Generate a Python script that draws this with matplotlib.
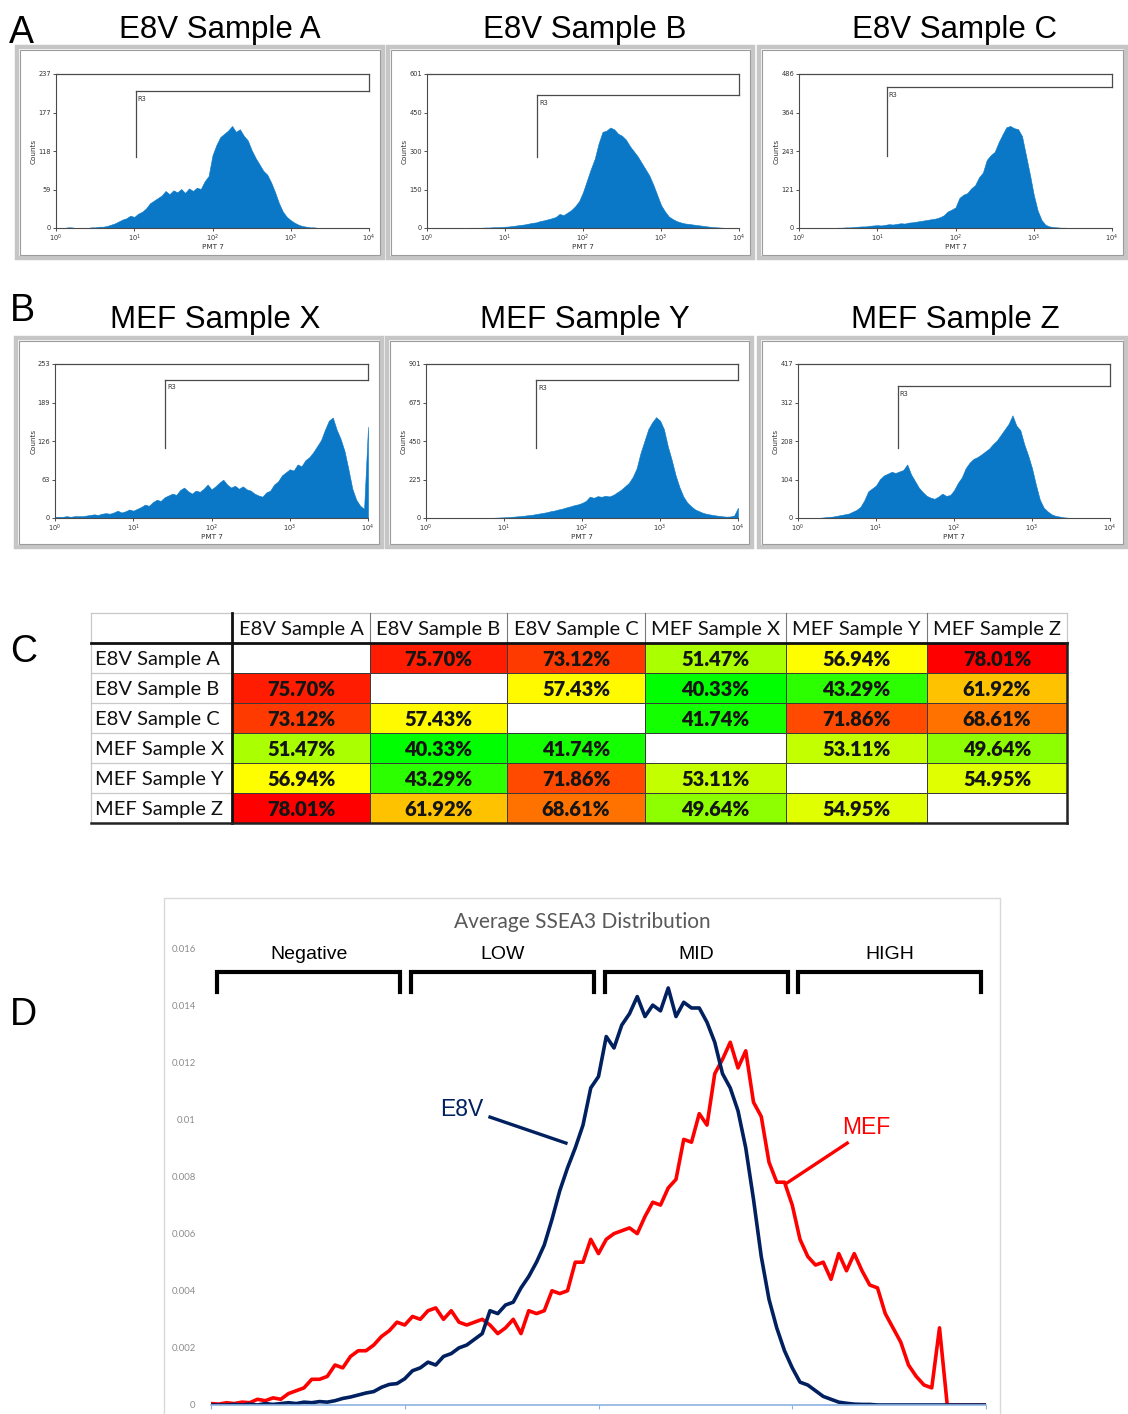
import matplotlib.pyplot as plt
import numpy as np
from matplotlib.patches import Rectangle
from matplotlib.colors import LinearSegmentedColormap, TwoSlopeNorm

W, H = 1128, 1414

# --- Flow histograms (counts per 0.05-decade channel, PMT 7 from 10^0 to 10^4) ---
log_channels = np.arange(81) * 0.05

hist_a = [0, 0, 0, 1, 1, 0, 0, 0, 0, 1,
          1, 2, 2, 3, 5, 7, 10, 13, 15, 19,
          17, 22, 25, 30, 38, 42, 46, 50, 57, 52,
          58, 55, 60, 54, 61, 57, 62, 60, 72, 80,
          112, 128, 140, 145, 150, 157, 148, 152, 142, 135,
          120, 108, 98, 88, 82, 70, 55, 38, 25, 17,
          12, 8, 5, 3, 2, 1, 1, 0, 0, 0,
          0, 0, 0, 0, 0, 0, 0, 0, 0, 0, 0]
hist_b = [0, 0, 0, 0, 0, 0, 0, 0, 0, 0, 0,
          1, 1, 1, 1, 2, 2, 3, 3, 4,
          5, 6, 8, 10, 12, 14, 17, 20, 22, 27,
          30, 34, 38, 43, 55, 50, 60, 70, 85, 105,
          140, 185, 230, 270, 330, 375, 380, 392, 385, 368,
          360, 345, 320, 300, 280, 255, 230, 205, 170, 130,
          90, 65, 45, 35, 27, 22, 18, 16, 14, 12,
          10, 8, 6, 4, 3, 2, 1, 0, 0, 0, 0]
hist_c = [0, 0, 0, 0, 0, 0, 0, 0, 0, 0,
          1, 1, 2, 2, 3, 4, 5, 5, 7, 8,
          9, 8, 10, 12, 11, 13, 15, 14, 17, 18,
          20, 22, 24, 26, 28, 30, 34, 40, 52, 58,
          65, 95, 105, 110, 125, 135, 160, 175, 215, 230,
          240, 270, 295, 318, 322, 315, 312, 290, 230, 170,
          105, 55, 25, 10, 5, 3, 2, 1, 1, 0,
          0, 0, 0, 0, 0, 0, 0, 0, 0, 0, 0]
hist_x = [2, 2, 2, 3, 2, 3, 3, 3, 4, 5,
          6, 5, 7, 8, 7, 9, 12, 9, 11, 14,
          12, 15, 18, 22, 20, 26, 30, 28, 34, 37,
          40, 38, 46, 50, 44, 40, 45, 43, 48, 55,
          47, 52, 58, 63, 55, 50, 53, 48, 52, 47,
          45, 40, 37, 35, 42, 45, 55, 60, 70, 75,
          80, 78, 88, 85, 95, 100, 108, 118, 128, 145,
          160, 165, 145, 130, 110, 80, 48, 30, 20, 15, 150]
hist_y = [0, 0, 0, 0, 0, 0, 0, 0, 0, 0, 0, 0, 0, 0, 0, 0, 0,
          1, 2, 3,
          4, 5, 7, 9, 11, 13, 16, 18, 22, 26,
          30, 34, 40, 44, 50, 55, 62, 68, 75, 80,
          88, 100, 125, 118, 128, 124, 130, 126, 135, 150,
          165, 185, 205, 240, 290, 380, 450, 520, 560, 590,
          570, 520, 420, 340, 250, 180, 125, 90, 68, 50,
          40, 30, 24, 20, 16, 13, 10, 8, 9, 14, 60]
hist_z = [0, 0, 0, 0, 0, 0, 1, 2, 3, 4,
          6, 8, 10, 12, 17, 22, 30, 48, 72, 80,
          88, 105, 115, 120, 125, 122, 126, 130, 145, 118,
          100, 82, 70, 60, 55, 52, 58, 66, 60, 62,
          75, 95, 110, 135, 150, 160, 165, 172, 180, 188,
          200, 210, 225, 240, 255, 278, 250, 238, 200, 170,
          135, 90, 50, 28, 18, 10, 6, 4, 2, 1,
          0, 0, 0, 0, 0, 0, 0, 0, 0, 0, 0]

hist_titles = ["E8V Sample A", "E8V Sample B", "E8V Sample C",
               "MEF Sample X", "MEF Sample Y", "MEF Sample Z"]
hist_counts = [hist_a, hist_b, hist_c, hist_x, hist_y, hist_z]
hist_ymax = [237, 601, 486, 253, 901, 417]
# R3 gate: start channel (log10), level and lower end of its marker (counts)
gate_start = [1.02, 1.41, 1.12, 1.41, 1.41, 1.28]
gate_level = [211, 519, 445, 227, 807, 357]
gate_low = [110, 276, 227, 115, 410, 190]

# --- Pairwise overlap table ---
samples = ["E8V Sample A", "E8V Sample B", "E8V Sample C",
           "MEF Sample X", "MEF Sample Y", "MEF Sample Z"]
overlap = [[np.nan, 75.70, 73.12, 51.47, 56.94, 78.01],
           [75.70, np.nan, 57.43, 40.33, 43.29, 61.92],
           [73.12, 57.43, np.nan, 41.74, 71.86, 68.61],
           [51.47, 40.33, 41.74, np.nan, 53.11, 49.64],
           [56.94, 43.29, 71.86, 53.11, np.nan, 54.95],
           [78.01, 61.92, 68.61, 49.64, 54.95, np.nan]]

# --- Average SSEA3 distribution ---
e8v_avg = [0, 0, 0, 0.00002, 0, 0.00003, 0, 0.00005, 0.00002, 0.00005,
           0.00008, 0.00005, 0.0001, 0.00008, 0.00012, 0.0001, 0.00015, 0.00023, 0.00028, 0.00035,
           0.00042, 0.00047, 0.00062, 0.00072, 0.00075, 0.00092, 0.0012, 0.0013, 0.0015, 0.0014,
           0.0017, 0.0018, 0.0020, 0.0021, 0.0023, 0.0025, 0.0033, 0.0032, 0.0035, 0.0036,
           0.0041, 0.0045, 0.0050, 0.0056, 0.0065, 0.0075, 0.0083, 0.0090, 0.0098, 0.0111,
           0.0115, 0.0129, 0.0125, 0.0133, 0.0137, 0.0143, 0.0136, 0.0140, 0.0138, 0.0146,
           0.0136, 0.0141, 0.0139, 0.0139, 0.0134, 0.0127, 0.0116, 0.0111, 0.0103, 0.0090,
           0.0072, 0.0052, 0.0037, 0.0027, 0.0019, 0.0013, 0.0008, 0.0007, 0.0005, 0.0003,
           0.0002, 0.0001, 0.00006, 0.00003, 0.00002, 0.00002, 0, 0, 0, 0,
           0, 0, 0, 0, 0, 0, 0, 0, 0, 0, 0]
mef_avg = [0.00005, 0.00003, 0.00008, 0.00005, 0.0001, 0.00008, 0.0002, 0.00015, 0.00025, 0.0002,
           0.0004, 0.0005, 0.0006, 0.0009, 0.0009, 0.0010, 0.0014, 0.0013, 0.0017, 0.0019,
           0.0019, 0.0021, 0.0024, 0.0026, 0.0029, 0.0028, 0.0031, 0.0030, 0.0033, 0.0034,
           0.0030, 0.0033, 0.0029, 0.0028, 0.0029, 0.0030, 0.0028, 0.0025, 0.0027, 0.0030,
           0.0025, 0.0033, 0.0032, 0.0033, 0.0040, 0.0039, 0.0040, 0.0050, 0.0050, 0.0058,
           0.0053, 0.0058, 0.0060, 0.0061, 0.0062, 0.0060, 0.0066, 0.0071, 0.0070, 0.0076,
           0.0079, 0.0093, 0.0092, 0.0102, 0.0098, 0.0116, 0.0121, 0.0127, 0.0118, 0.0124,
           0.0106, 0.0101, 0.0085, 0.0078, 0.0078, 0.0070, 0.0058, 0.0052, 0.0049, 0.0050,
           0.0044, 0.0053, 0.0047, 0.0053, 0.0047, 0.0042, 0.0041, 0.0032, 0.0027, 0.0022,
           0.0014, 0.0010, 0.0007, 0.0006, 0.0027, 0, 0, 0, 0, 0, 0]
ssea3_bins = ["Negative", "LOW", "MID", "HIGH"]

fig = plt.figure(figsize=(W / 100, H / 100), dpi=100)
canvas = fig.add_axes([0, 0, 1, 1])
canvas.set_xlim(0, W)
canvas.set_ylim(H, 0)
canvas.axis('off')


def px_axes(x0, y0, x1, y1):
    return fig.add_axes([x0 / W, 1 - y1 / H, (x1 - x0) / W, (y1 - y0) / H])


def panel_label(x, y, s):
    canvas.text(x, y, s, fontsize=27, family='Liberation Sans', va='center', ha='left')


# ---------------- A / B: histograms ----------------
frames = [(17, 47, 383, 258), (388, 47, 753, 258), (759, 47, 1126, 258),
          (16, 338, 382, 547), (387, 338, 752, 547), (759, 338, 1126, 547)]
plot_boxes = [(56, 74, 369, 228), (427, 74, 739, 228), (799, 74, 1112, 228),
              (55, 364, 368, 518), (426, 364, 738, 518), (798, 364, 1110, 518)]
title_pos = [(220, 30), (585, 30), (955, 30), (215, 320), (585, 320), (955, 320)]
hist_color = '#0a78c6'
line_gray = '#4a4a4a'

channels = 10 ** log_channels
for k in range(6):
    x0, y0, x1, y1 = frames[k]
    canvas.add_patch(Rectangle((x0, y0), x1 - x0, y1 - y0, fill=False, ec='#c6c6c6', lw=3.2))
    canvas.add_patch(Rectangle((x0 + 3, y0 + 3), x1 - x0 - 6, y1 - y0 - 6, fill=False,
                               ec='#9c9c9c', lw=0.8))
    tx, ty = title_pos[k]
    canvas.text(tx, ty, hist_titles[k], fontsize=22.5, family='Liberation Sans',
                ha='center', va='center')

    ax = px_axes(*plot_boxes[k])
    ymax = hist_ymax[k]
    ax.fill_between(channels, hist_counts[k], 0, color=hist_color, lw=0.4, ec=hist_color)
    ax.set_xscale('log')
    ax.set_xlim(1, 1e4)
    ax.set_ylim(0, ymax)
    ax.set_xticks([1, 10, 100, 1000, 10000])
    ax.set_xticklabels([r'$10^{%d}$' % p for p in range(5)])
    ax.xaxis.set_minor_locator(plt.NullLocator())
    yt = [ymax * q / 4 for q in range(5)]
    ax.set_yticks(yt)
    ax.set_yticklabels([str(int(v)) for v in yt])
    ax.tick_params(labelsize=4.8, length=2.5, width=0.6, pad=1, colors='#333333')
    ax.set_xlabel('PMT 7', fontsize=5.2, labelpad=0, color='#333333')
    ax.set_ylabel('Counts', fontsize=5.2, labelpad=1, color='#333333')
    for side in ('top', 'right'):
        ax.spines[side].set_visible(False)
    for side in ('left', 'bottom'):
        ax.spines[side].set_color(line_gray)
        ax.spines[side].set_linewidth(0.8)
    # full-range gate and R3 gate
    g = 10 ** gate_start[k]
    ax.plot([1, 1e4], [ymax, ymax], color=line_gray, lw=0.9, clip_on=False)
    ax.plot([1e4, 1e4], [ymax, gate_level[k]], color=line_gray, lw=0.9, clip_on=False)
    ax.plot([g, 1e4], [gate_level[k], gate_level[k]], color=line_gray, lw=0.9, clip_on=False)
    ax.plot([g, g], [gate_level[k], gate_low[k]], color=line_gray, lw=0.9, clip_on=False)
    ax.text(g * 1.06, gate_level[k] - ymax * 0.03, 'R3', fontsize=4.8, va='top',
            ha='left', color='#333333')

panel_label(9, 33, 'A')
panel_label(10, 311, 'B')

# ---------------- C: overlap table ----------------
panel_label(10, 652, 'C')
col_edges = [91, 232, 370, 507, 645, 786, 927, 1067]
row_edges = [613, 643, 673, 703, 733, 763, 793, 823]
vals = np.array(overlap, dtype=float)
finite = vals[np.isfinite(vals)]
cmap = LinearSegmentedColormap.from_list('gyr', ['#00ff00', '#ffff00', '#ff0000'])
norm = TwoSlopeNorm(vmin=finite.min(), vcenter=np.median(finite), vmax=finite.max())
table_font = 'Lato'

for j, name in enumerate(samples):
    cx = (col_edges[j + 1] + col_edges[j + 2]) / 2
    canvas.text(cx, (row_edges[0] + row_edges[1]) / 2 + 1, name, fontsize=14.5,
                family=table_font, ha='center', va='center', color='#111111')
for i, name in enumerate(samples):
    ry0, ry1 = row_edges[i + 1], row_edges[i + 2]
    canvas.text(col_edges[0] + 4, (ry0 + ry1) / 2 + 1, name, fontsize=14.5,
                family=table_font, ha='left', va='center', color='#111111')
    for j in range(6):
        cx0, cx1 = col_edges[j + 1], col_edges[j + 2]
        v = vals[i, j]
        face = 'white' if np.isnan(v) else cmap(norm(v))
        canvas.add_patch(Rectangle((cx0, ry0), cx1 - cx0, ry1 - ry0, fc=face,
                                   ec='#3a3a3a', lw=0.7))
        if not np.isnan(v):
            canvas.text((cx0 + cx1) / 2, (ry0 + ry1) / 2 + 1, '%.2f%%' % v,
                        fontsize=14.5, fontweight='heavy', family=table_font,
                        ha='center', va='center', color='#151515')

# light grid for header row and label column
grid_c = '#c8c8c8'
canvas.plot([col_edges[0], col_edges[-1]], [row_edges[0]] * 2, color=grid_c, lw=0.9)
for x in col_edges[2:-1]:
    canvas.plot([x, x], [row_edges[0], row_edges[1]], color='#7a7a7a', lw=0.8)
canvas.plot([col_edges[0]] * 2, [row_edges[0], row_edges[-1]], color=grid_c, lw=0.9)
for y in row_edges[2:-1]:
    canvas.plot([col_edges[0], col_edges[1]], [y, y], color=grid_c, lw=0.9)
canvas.plot([col_edges[-1]] * 2, [row_edges[0], row_edges[1]], color=grid_c, lw=0.9)
# heavy separators and outer edge
canvas.plot([col_edges[0], col_edges[-1]], [row_edges[1]] * 2, color='#111111', lw=2)
canvas.plot([col_edges[1]] * 2, [row_edges[0], row_edges[-1]], color='#111111', lw=2)
canvas.plot([col_edges[-1]] * 2, [row_edges[1], row_edges[-1]], color='#222222', lw=1.8)
canvas.plot([col_edges[0], col_edges[-1]], [row_edges[-1]] * 2, color='#222222', lw=1.8)

# ---------------- D: average SSEA3 distribution ----------------
panel_label(10, 1015, 'D')
canvas.plot([164, 164, 1000, 1000], [H + 5, 898, 898, H + 5], color='#d9d9d9', lw=1)
canvas.text(582, 922, 'Average SSEA3 Distribution', fontsize=15, family='Lato',
            color='#595959', ha='center', va='center')

axd = px_axes(211, 948, 986, 1405)
axd.set_facecolor('none')
xs = np.arange(len(mef_avg))
axd.plot(xs, mef_avg, color='#ff0000', lw=2.6, solid_joinstyle='round')
axd.plot(xs, e8v_avg, color='#002060', lw=2.6, solid_joinstyle='round')
axd.set_xlim(0, 100)
axd.set_ylim(0, 0.016)
axd.set_yticks(np.arange(0, 0.0161, 0.002))
axd.set_yticklabels(['0', '0.002', '0.004', '0.006', '0.008', '0.01', '0.012', '0.014', '0.016'])
axd.tick_params(axis='y', length=0, pad=11, labelsize=6.8, labelcolor='#8c8c8c')
for lab in axd.get_yticklabels():
    lab.set_family('Lato')
axd.set_xticks([0, 25, 50, 75, 100])
axd.set_xticklabels([])
axd.tick_params(axis='x', length=3, width=0.8, color='#8db3e2', direction='out')
for side in ('top', 'right', 'left'):
    axd.spines[side].set_visible(False)
axd.spines['bottom'].set_color('#8db3e2')
axd.spines['bottom'].set_linewidth(1.2)

# SSEA3 expression brackets
for b, name in enumerate(ssea3_bins):
    left, right = 25 * b + 0.8, 25 * (b + 1) - 0.6
    axd.plot([left, left, right, right], [0.01446, 0.01516, 0.01516, 0.01446],
             color='black', lw=3, solid_joinstyle='miter', clip_on=False)
    axd.text((left + right) / 2, 0.01578, name, fontsize=14, family='Liberation Sans',
             ha='center', va='center')

axd.text(32.4, 0.01033, 'E8V', color='#002060', fontsize=16.5, family='Liberation Sans',
         ha='center', va='center')
axd.plot([36.0, 45.8], [0.01008, 0.00917], color='#002060', lw=2.4)
axd.text(84.5, 0.00973, 'MEF', color='#ff0000', fontsize=16.5, family='Liberation Sans',
         ha='center', va='center')
axd.plot([82.1, 74.3], [0.00917, 0.00777], color='#ff0000', lw=2.4)

fig.savefig('out.png', dpi=100, facecolor='white')
